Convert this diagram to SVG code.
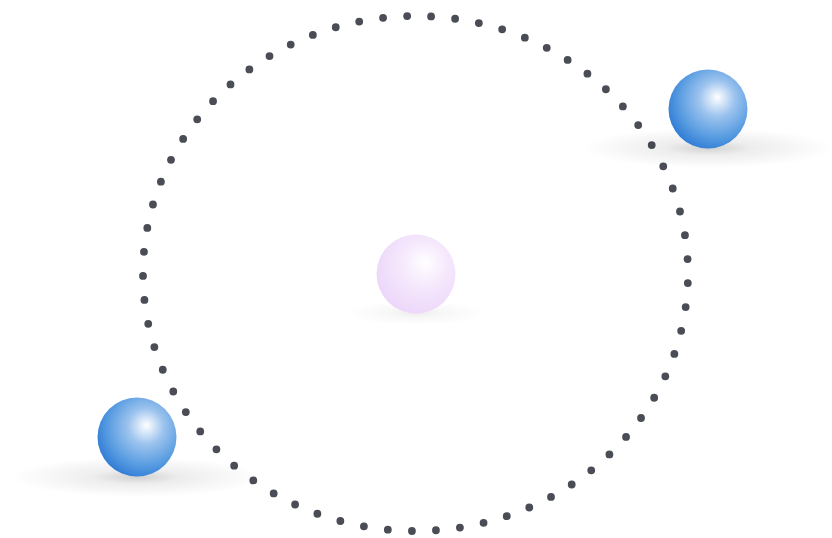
<svg xmlns="http://www.w3.org/2000/svg" width="832" height="538" viewBox="0 0 832 538">
<defs>
<radialGradient id="blue" cx="0.6" cy="0.4" r="0.65" fx="0.62" fy="0.35">
<stop offset="0" stop-color="#ffffff"/>
<stop offset="0.35" stop-color="#9cc3ee"/>
<stop offset="0.75" stop-color="#559ae0"/>
<stop offset="1" stop-color="#2f7bd5"/>
</radialGradient>
<radialGradient id="pink" cx="0.6" cy="0.4" r="0.65" fx="0.62" fy="0.35">
<stop offset="0" stop-color="#ffffff"/>
<stop offset="0.45" stop-color="#f5e8fc"/>
<stop offset="1" stop-color="#ecd6f9"/>
</radialGradient>
<radialGradient id="shadow" cx="0.5" cy="0.5" r="0.5">
<stop offset="0" stop-color="#000" stop-opacity="0.18"/>
<stop offset="0.35" stop-color="#000" stop-opacity="0.07"/>
<stop offset="1" stop-color="#000" stop-opacity="0"/>
</radialGradient>
<radialGradient id="shadowFaint" cx="0.5" cy="0.5" r="0.5">
<stop offset="0" stop-color="#000" stop-opacity="0.07"/>
<stop offset="0.4" stop-color="#000" stop-opacity="0.03"/>
<stop offset="1" stop-color="#000" stop-opacity="0"/>
</radialGradient>
</defs>
<style>
.orbit{fill:none;stroke:#4a4d55;stroke-width:7.8;stroke-linecap:round;stroke-dasharray:0 1;stroke-dashoffset:-0.4}
</style>
<g id="connectors">
<ellipse class="orbit" cx="415.5" cy="273.5" rx="272.5" ry="257.5" pathLength="69"/>
</g>
<g id="center-sphere">
<ellipse cx="416" cy="313" rx="72" ry="12" fill="url(#shadowFaint)"/>
<circle cx="416" cy="274" r="39.5" fill="url(#pink)"/>
</g>
<g id="sphere-top-right">
<ellipse cx="708" cy="148" rx="125" ry="20" fill="url(#shadow)"/>
<circle cx="708" cy="109" r="39.5" fill="url(#blue)"/>
</g>
<g id="sphere-bottom-left">
<ellipse cx="137" cy="477" rx="125" ry="20" fill="url(#shadow)"/>
<circle cx="137" cy="437" r="39.5" fill="url(#blue)"/>
</g>
</svg>
